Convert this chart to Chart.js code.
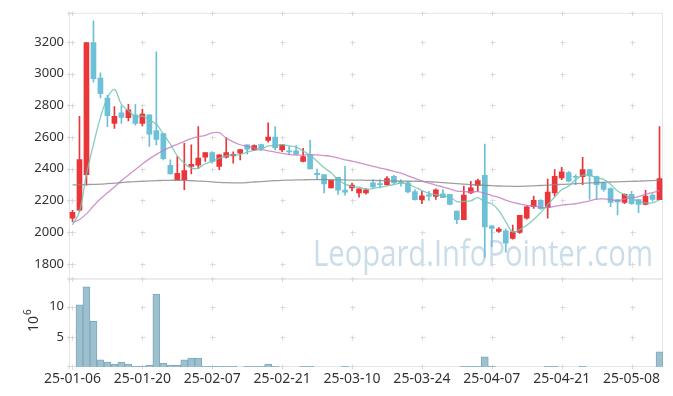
<!DOCTYPE html>
<html>
<head>
<meta charset="utf-8">
<script src="https://cdn.jsdelivr.net/npm/chart.js@4.4.1/dist/chart.umd.min.js"></script>
<style>
html, body { margin: 0; padding: 0; background: #fff; }
</style>
</head>
<body>
<canvas id="chart" width="673" height="396"></canvas>
<script>
const dates = [
  "25-01-06","25-01-07","25-01-08","25-01-09","25-01-10","25-01-13","25-01-14","25-01-15","25-01-16","25-01-17",
  "25-01-20","25-01-21","25-01-22","25-01-23","25-01-24","25-01-31","25-02-03","25-02-04","25-02-05","25-02-06",
  "25-02-07","25-02-10","25-02-11","25-02-12","25-02-13","25-02-14","25-02-17","25-02-18","25-02-19","25-02-20",
  "25-02-21","25-02-24","25-02-25","25-02-26","25-02-27","25-02-28","25-03-04","25-03-05","25-03-06","25-03-07",
  "25-03-10","25-03-11","25-03-12","25-03-13","25-03-14","25-03-17","25-03-18","25-03-19","25-03-20","25-03-21",
  "25-03-24","25-03-25","25-03-26","25-03-27","25-03-28","25-03-31","25-04-01","25-04-02","25-04-03","25-04-04",
  "25-04-07","25-04-08","25-04-09","25-04-10","25-04-11","25-04-14","25-04-15","25-04-16","25-04-17","25-04-18",
  "25-04-21","25-04-22","25-04-23","25-04-24","25-04-25","25-04-28","25-04-29","25-04-30","25-05-02","25-05-07",
  "25-05-08","25-05-09","25-05-12","25-05-13","25-05-14"
];

const opens = [
  2088, 2138, 2363, 3196, 2971, 2846, 2685, 2752, 2721, 2740,
  2685, 2740, 2640, 2621, 2421, 2329, 2329, 2415, 2423, 2473,
  2502, 2415, 2473, 2481, 2498, 2550, 2519, 2552, 2579, 2600,
  2519, 2513, 2513, 2446, 2488, 2371, 2363, 2279, 2346, 2265,
  2279, 2248, 2248, 2311, 2306, 2300, 2352, 2317, 2311, 2256,
  2204, 2235, 2225, 2242, 2238, 2133, 2079, 2248, 2294, 2358,
  2040, 2004, 2008, 1960, 1998, 2088, 2160, 2200, 2154, 2248,
  2342, 2375, 2352, 2350, 2394, 2350, 2311, 2275, 2206, 2188,
  2238, 2206, 2175, 2233, 2204
];
const highs = [
  2138, 2731, 3196, 3333, 3004, 2862, 2792, 2796, 2806, 2806,
  2775, 2740, 3137, 2621, 2456, 2477, 2560, 2550, 2665, 2502,
  2508, 2488, 2596, 2506, 2521, 2550, 2550, 2556, 2690, 2665,
  2554, 2540, 2546, 2529, 2581, 2398, 2363, 2329, 2346, 2415,
  2310, 2273, 2275, 2331, 2331, 2350, 2358, 2331, 2321, 2269,
  2258, 2258, 2273, 2269, 2238, 2133, 2290, 2321, 2335, 2556,
  2040, 2029, 2019, 2044, 2106, 2165, 2227, 2206, 2335, 2394,
  2408, 2383, 2362, 2471, 2394, 2354, 2315, 2279, 2206, 2242,
  2258, 2206, 2263, 2242, 2665
];
const lows = [
  2067, 2130, 2296, 2946, 2846, 2665, 2654, 2685, 2702, 2675,
  2669, 2540, 2550, 2455, 2367, 2329, 2267, 2367, 2400, 2446,
  2435, 2394, 2467, 2435, 2456, 2492, 2513, 2513, 2567, 2519,
  2508, 2488, 2488, 2442, 2398, 2331, 2248, 2279, 2238, 2233,
  2260, 2221, 2240, 2279, 2279, 2296, 2304, 2290, 2248, 2202,
  2179, 2200, 2206, 2217, 2171, 2054, 2079, 2242, 2258, 1842,
  1908, 1998, 1873, 1956, 1992, 2081, 2150, 2144, 2088, 2227,
  2331, 2317, 2300, 2300, 2206, 2206, 2258, 2160, 2108, 2179,
  2175, 2123, 2171, 2196, 2204
];
const closes = [
  2125, 2458, 3196, 2967, 2873, 2735, 2731, 2723, 2771, 2685,
  2744, 2617, 2585, 2463, 2367, 2371, 2388, 2427, 2467, 2502,
  2446, 2488, 2502, 2490, 2521, 2523, 2546, 2529, 2600, 2533,
  2550, 2506, 2492, 2477, 2398, 2363, 2304, 2329, 2265, 2252,
  2296, 2273, 2267, 2285, 2300, 2337, 2311, 2311, 2254, 2204,
  2229, 2227, 2267, 2217, 2175, 2079, 2233, 2279, 2325, 2033,
  2023, 2019, 1931, 2002, 2106, 2160, 2200, 2148, 2252, 2352,
  2381, 2321, 2346, 2394, 2354, 2300, 2269, 2188, 2190, 2238,
  2179, 2175, 2227, 2206, 2337
];

const ma5 = [
  2046, 2130, 2365, 2553, 2724, 2846, 2900, 2806, 2767, 2729,
  2731, 2708, 2680, 2619, 2555, 2481, 2435, 2403, 2404, 2431,
  2446, 2466, 2481, 2486, 2489, 2505, 2516, 2522, 2544, 2546,
  2552, 2544, 2536, 2512, 2485, 2447, 2407, 2374, 2332, 2303,
  2289, 2283, 2271, 2275, 2284, 2292, 2300, 2309, 2303, 2283,
  2262, 2245, 2236, 2229, 2223, 2193, 2194, 2197, 2218, 2190,
  2179, 2136, 2066, 2002, 2016, 2044, 2080, 2123, 2173, 2222,
  2267, 2291, 2330, 2359, 2359, 2343, 2333, 2301, 2260, 2237,
  2213, 2196, 2185, 2185, 2204
];
const ma20 = [
  2060, 2080, 2115, 2165, 2210, 2248, 2285, 2325, 2360, 2395,
  2430, 2462, 2490, 2515, 2535, 2553, 2572, 2590, 2602, 2610,
  2626, 2627, 2593, 2569, 2551, 2541, 2531, 2522, 2513, 2505,
  2496, 2490, 2486, 2486, 2488, 2487, 2483, 2478, 2468, 2456,
  2448, 2437, 2426, 2415, 2404, 2395, 2383, 2372, 2355, 2339,
  2323, 2309, 2297, 2284, 2273, 2259, 2256, 2253, 2256, 2245,
  2231, 2219, 2202, 2188, 2178, 2169, 2164, 2156, 2155, 2163,
  2170, 2175, 2179, 2188, 2197, 2208, 2210, 2205, 2198, 2209,
  2217, 2224, 2239, 2249, 2261
];
const maLong = [
  2298, 2299, 2300, 2301, 2303, 2306, 2309, 2313, 2316, 2319,
  2321, 2323, 2325, 2326, 2327, 2327, 2326, 2324, 2322, 2320,
  2317, 2314, 2312, 2311, 2311, 2313, 2316, 2319, 2322, 2325,
  2327, 2328, 2329, 2330, 2331, 2331, 2331, 2330, 2330, 2329,
  2328, 2328, 2327, 2326, 2325, 2324, 2323, 2322, 2321, 2321,
  2320, 2318, 2315, 2312, 2309, 2306, 2303, 2300, 2297, 2295,
  2293, 2291, 2290, 2289, 2289, 2290, 2292, 2294, 2296, 2299,
  2301, 2303, 2306, 2308, 2310, 2312, 2314, 2316, 2317, 2319,
  2320, 2322, 2323, 2325, 2327
];

// volume in units of 10^6
const volumes = [
  0, 10.3, 13.3, 7.6, 1.2, 0.8, 0.5, 0.8, 0.5, 0.15,
  0.15, 0.3, 12.1, 0.65, 0.3, 0.3, 1.2, 1.5, 1.5, 0.1,
  0.1, 0.1, 0.1, 0.1, 0, 0.1, 0.1, 0.1, 0.5, 0.1,
  0, 0, 0, 0.1, 0.1, 0, 0, 0, 0, 0.1,
  0, 0, 0, 0, 0, 0, 0, 0, 0, 0,
  0, 0, 0, 0, 0, 0, 0.1, 0.1, 0.1, 1.7,
  0.1, 0, 0, 0, 0, 0, 0, 0, 0.1, 0.1,
  0, 0, 0, 0.1, 0, 0, 0, 0, 0, 0,
  0, 0, 0, 0, 2.5
];

const priceTicks = [1800, 2000, 2200, 2400, 2600, 2800, 3000, 3200];
const volTicks = [5, 10];

const UP = "#ea3539";
const DOWN = "#6cc1d8";
const candleColors = closes.map((c, i) => (c >= opens[i] ? UP : DOWN));

const decor = {
  id: "decor",
  beforeDatasetsDraw(chart) {
    const { ctx, scales } = chart;
    const x = scales.x, yp = scales.y, yv = scales.yv;
    const left = chart.chartArea.left, right = chart.chartArea.right;

    // watermark
    ctx.save();
    ctx.font = '36px "Open Sans"';
    ctx.fillStyle = "rgba(186,209,224,0.75)";
    ctx.textBaseline = "alphabetic";
    const txt = "Leopard.InfoPointer.com";
    const w = ctx.measureText(txt).width;
    ctx.translate(313, 266);
    ctx.scale(340 / w, 1);
    ctx.fillText(txt, 0, 0);
    ctx.restore();

    // panel frames
    ctx.save();
    ctx.strokeStyle = "#e6e6e6";
    ctx.lineWidth = 1;
    ctx.strokeRect(left + 0.5, yp.top + 0.5, right - left - 1, yp.bottom - yp.top);
    ctx.strokeRect(left + 0.5, yv.top + 0.5, right - left - 1, yv.bottom - yv.top - 1);

    // small crosses at grid intersections
    ctx.strokeStyle = "#d9d9d9";
    const xs = [left];
    for (let i = 0; i < dates.length; i += 10) xs.push(Math.round(x.getPixelForValue(i)) + 0.5);
    const ys = priceTicks.map(v => Math.round(yp.getPixelForValue(v)) + 0.5)
      .concat(volTicks.map(v => Math.round(yv.getPixelForValue(v)) + 0.5))
      .concat([yp.top + 0.5, yp.bottom + 0.5, yv.bottom - 0.5]);
    ctx.beginPath();
    xs.forEach(px => {
      ys.forEach(py => {
        ctx.moveTo(px - 2, py); ctx.lineTo(px + 3, py);
        ctx.moveTo(px, py - 2); ctx.lineTo(px, py + 3);
      });
    });
    ctx.stroke();
    ctx.restore();
  },
  afterDraw(chart) {
    const { ctx } = chart;
    ctx.save();
    ctx.translate(38, 332);
    ctx.rotate(-Math.PI / 2);
    ctx.fillStyle = "#333";
    ctx.font = '14px "Noto Sans"';
    ctx.textBaseline = "alphabetic";
    ctx.fillText("10", 0, 0);
    const w = ctx.measureText("10").width;
    ctx.font = '10px "Noto Sans"';
    ctx.fillText("6", w + 1, -7);
    ctx.restore();
  }
};

const xFont = { family: "Noto Sans", size: 14 };
const yFont = { family: "Noto Sans", size: 13 };

new Chart(document.getElementById("chart"), {
  type: "bar",
  data: {
    labels: dates,
    datasets: [
      {
        type: "line", label: "MA5", data: ma5, yAxisID: "y", order: 0,
        borderColor: "rgba(110,196,180,0.85)", borderWidth: 1.3, pointRadius: 0, tension: 0.4
      },
      {
        type: "line", label: "MA20", data: ma20, yAxisID: "y", order: 0,
        borderColor: "rgba(196,120,192,0.8)", borderWidth: 1.3, pointRadius: 0, tension: 0.4
      },
      {
        type: "line", label: "MA", data: maLong, yAxisID: "y", order: 0,
        borderColor: "rgba(135,135,135,0.8)", borderWidth: 1.3, pointRadius: 0, tension: 0.4
      },
      {
        label: "body", data: opens.map((o, i) => [o, closes[i]]), yAxisID: "y", order: 1,
        backgroundColor: candleColors, barThickness: 5, minBarLength: 1, grouped: false
      },
      {
        label: "wick", data: lows.map((l, i) => [l, highs[i]]), yAxisID: "y", order: 2,
        backgroundColor: candleColors, barThickness: 1, grouped: false
      },
      {
        label: "volume", data: volumes, yAxisID: "yv", order: 3,
        backgroundColor: "#9dc0cf", borderColor: "#7ea9bc", borderWidth: 1,
        categoryPercentage: 1, barPercentage: 1, grouped: false
      }
    ]
  },
  options: {
    responsive: false,
    animation: false,
    layout: { padding: { top: 10, right: 10, left: 0, bottom: 0 } },
    plugins: { legend: { display: false }, tooltip: { enabled: false } },
    scales: {
      x: {
        offset: true,
        grid: { display: false, drawTicks: false },
        border: { display: false },
        afterFit: s => { s.height = 29; },
        ticks: {
          autoSkip: false, maxRotation: 0, minRotation: 0, padding: 4,
          color: "#333", font: xFont,
          callback: (v, i) => (i % 10 === 0 ? dates[i] : "")
        }
      },
      yv: {
        position: "left", stack: "panes", stackWeight: 1,
        min: 0, max: 14.7,
        grid: { display: false, drawTicks: false },
        border: { display: false },
        afterFit: s => { s.width = 69; },
        ticks: {
          stepSize: 5, includeBounds: false, padding: 5, color: "#333", font: yFont,
          callback: v => (v === 0 ? "" : String(v))
        }
      },
      y: {
        position: "left", stack: "panes", stackWeight: 3,
        min: 1708, max: 3383,
        grid: { display: false, drawTicks: false },
        border: { display: false },
        afterFit: s => { s.width = 69; },
        ticks: {
          stepSize: 200, includeBounds: false, padding: 5, color: "#333", font: yFont,
          callback: v => String(v)
        }
      }
    }
  },
  plugins: [decor]
});
</script>
</body>
</html>
